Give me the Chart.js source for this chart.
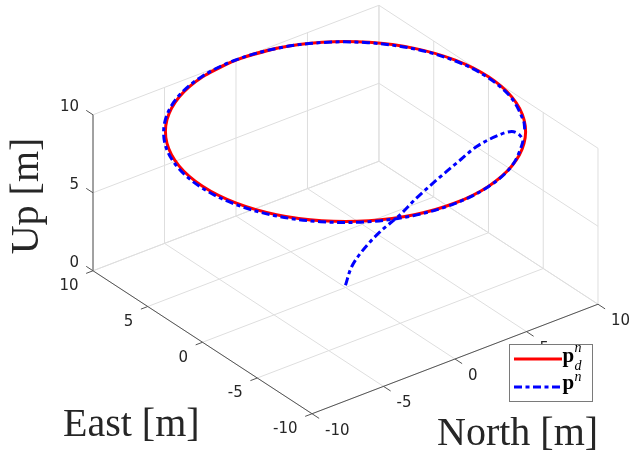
<!DOCTYPE html>
<html>
<head>
<meta charset="utf-8">
<script src="https://cdn.jsdelivr.net/npm/chart.js@4.4.0/dist/chart.umd.min.js"></script>
<style>
  html, body { margin: 0; padding: 0; background: #fff; }
</style>
</head>
<body>
<canvas id="myChart" width="631" height="457"></canvas>
<script>
// axis ticks [m]
const eastTicks = [-10, -5, 0, 5, 10]
const northTicks = [-10, -5, 0, 5, 10]
const upTicks = [0, 5, 10]

// desired position p_d^n (circle, 10 m up)
const refEast = [9.66, 10, 9.66, 8.66, 7.07, 5, 2.59, 0, -2.59, -5, -7.07, -8.66, -9.66, -10,
  -9.66, -8.66, -7.07, -5, -2.59, 0, 2.59, 5, 7.07, 8.66, 9.66, 10, 9.66]
const refNorth = [-2.59, 0, 2.59, 5, 7.07, 8.66, 9.66, 10, 9.66, 8.66, 7.07, 5, 2.59, 0,
  -2.59, -5, -7.07, -8.66, -9.66, -10, -9.66, -8.66, -7.07, -5, -2.59, 0, 2.59]
const refUp = [10, 10, 10, 10, 10, 10, 10, 10, 10, 10, 10, 10, 10, 10,
  10, 10, 10, 10, 10, 10, 10, 10, 10, 10, 10, 10, 10]

// actual position p^n
const posEast = [0, -0.21, -0.59, -1.17, -1.77, -2.40, -3.07, -3.75, -4.42, -5.10, -5.60, -6.20, -6.88,
  -8.65, -9.65, -9.99, -9.65, -8.65, -7.05, -4.98, -2.56, 0.04, 2.64, 5.06, 7.13, 8.73, 9.73, 10.07,
  9.73, 8.73, 7.13, 5.06, 2.64, 0.04, -2.56, -4.98, -5.86]
const posNorth = [0, 0.27, 0.77, 1.53, 2.32, 3.14, 4.02, 4.91, 5.79, 6.68, 7.34, 7.46, 7.12,
  4.96, 2.54, -0.06, -2.66, -5.08, -7.15, -8.75, -9.75, -10.09, -9.75, -8.75, -7.15, -5.08, -2.66, -0.06,
  2.54, 4.96, 7.03, 8.63, 9.63, 9.97, 9.63, 8.63, 8.05]
const posUp = [0.15, 1.33, 2.40, 3.58, 4.54, 5.74, 6.89, 7.98, 9.03, 9.71, 9.99, 9.97, 9.96,
  9.96, 9.96, 9.96, 9.96, 9.96, 9.96, 9.96, 9.96, 9.96, 9.96, 9.96, 9.96, 9.96, 9.96, 9.96,
  9.96, 9.96, 9.96, 9.96, 9.96, 9.96, 9.96, 9.96, 9.96]

// view (like matlab view(az, el)), orthographic
const az = 37.45 * Math.PI / 180
const el = 30 * Math.PI / 180
const pxPerM = 18.01
const originPx = [345.5, 287.5]
const W = 631, H = 457

function project(e, n, u) {
    return {
        x: -Math.sin(az) * e + Math.cos(az) * n,
        y: Math.sin(el) * (Math.cos(az) * e + Math.sin(az) * n) + Math.cos(el) * u
    }
}

const eMin = eastTicks[0], eMax = eastTicks.at(-1)
const nMin = northTicks[0], nMax = northTicks.at(-1)
const uMin = upTicks[0], uMax = upTicks.at(-1)

function seg(pts, color, width, order) {
    return {
        data: pts.map(p => project(p[0], p[1], p[2])),
        showLine: true, borderColor: color, borderWidth: width,
        pointRadius: 0, tension: 0, order: order
    }
}

const datasets = []

// actual path
datasets.push({
    data: posEast.map((e, i) => project(e, posNorth[i], posUp[i])),
    showLine: true, borderColor: 'rgb(0,0,255)', borderWidth: 3,
    borderDash: [8, 3.5, 4, 3.5], borderJoinStyle: 'round',
    pointRadius: 0, tension: 0.34, order: 0
})
// desired path
datasets.push({
    data: refEast.map((e, i) => project(e, refNorth[i], refUp[i])),
    showLine: true, borderColor: 'rgb(255,0,0)', borderWidth: 3,
    borderJoinStyle: 'round',
    pointRadius: 0, tension: 0.34, order: 1
})

// axis lines + ticks
const axisColor = '#555555'
datasets.push(seg([[eMin, nMin, uMin], [eMax, nMin, uMin]], axisColor, 1, 2))
datasets.push(seg([[eMin, nMin, uMin], [eMin, nMax, uMin]], axisColor, 1, 2))
datasets.push(seg([[eMax, nMin, uMin], [eMax, nMin, uMax]], axisColor, 1, 2))
for (const e of eastTicks) datasets.push(seg([[e, nMin, uMin], [e, nMin - 0.48, uMin]], axisColor, 1, 2))
for (const n of northTicks) datasets.push(seg([[eMin, n, uMin], [eMin - 0.65, n, uMin]], axisColor, 1, 2))
for (const u of upTicks) datasets.push(seg([[eMax, nMin, u], [eMax + 0.62, nMin, u]], axisColor, 1, 2))

// grid on floor and the two back walls
const gridColor = '#dedede'
for (const e of eastTicks) {
    datasets.push(seg([[e, nMin, uMin], [e, nMax, uMin]], gridColor, 1, 3))
    datasets.push(seg([[e, nMax, uMin], [e, nMax, uMax]], gridColor, 1, 3))
}
for (const n of northTicks) {
    datasets.push(seg([[eMin, n, uMin], [eMax, n, uMin]], gridColor, 1, 3))
    datasets.push(seg([[eMax, n, uMin], [eMax, n, uMax]], gridColor, 1, 3))
}
for (const u of upTicks) {
    datasets.push(seg([[eMax, nMin, u], [eMax, nMax, u]], gridColor, 1, 3))
    datasets.push(seg([[eMin, nMax, u], [eMax, nMax, u]], gridColor, 1, 3))
}

const textPlugin = {
    id: 'text3d',
    afterDatasetsDraw(chart) {
        const ctx = chart.ctx
        const px = (e, n, u) => {
            const p = project(e, n, u)
            return [chart.scales.x.getPixelForValue(p.x), chart.scales.y.getPixelForValue(p.y)]
        }
        ctx.save()
        ctx.fillStyle = '#262626'
        ctx.font = '15px "DejaVu Sans"'
        ctx.textBaseline = 'middle'

        ctx.textAlign = 'right'
        for (const e of eastTicks) {
            const [x, y] = px(e, nMin, uMin)
            ctx.fillText(String(e), x - 14.5, y + 15.5)
        }
        for (const u of upTicks) {
            const [x, y] = px(eMax, nMin, u)
            ctx.fillText(String(u), x - 14, y - 7.5)
        }
        ctx.textAlign = 'left'
        for (const n of northTicks) {
            const [x, y] = px(eMin, n, uMin)
            ctx.fillText(String(n), x + 13, y + 17)
        }

        // axis titles
        ctx.font = '40px "Liberation Serif"'
        ctx.textBaseline = 'alphabetic'
        ctx.textAlign = 'left'
        ctx.fillText('East [m]', 63, 436)
        ctx.fillText('North [m]', 437, 445)
        ctx.save()
        ctx.translate(37.5, 196)
        ctx.rotate(-Math.PI / 2)
        ctx.textAlign = 'center'
        ctx.fillText('Up [m]', 0, 0)
        ctx.restore()

        // legend
        ctx.fillStyle = '#ffffff'
        ctx.fillRect(509.5, 344.5, 83, 57)
        ctx.strokeStyle = '#7a7a7a'
        ctx.lineWidth = 1
        ctx.strokeRect(509.5, 344.5, 83, 57)

        ctx.lineWidth = 3
        ctx.strokeStyle = 'rgb(255,0,0)'
        ctx.beginPath(); ctx.moveTo(514, 359); ctx.lineTo(562, 359); ctx.stroke()
        ctx.strokeStyle = 'rgb(0,0,255)'
        ctx.setLineDash([8, 3.5, 4, 3.5])
        ctx.beginPath(); ctx.moveTo(514, 387); ctx.lineTo(562, 387); ctx.stroke()
        ctx.setLineDash([])

        ctx.fillStyle = '#000000'
        ctx.font = 'bold 21px "Liberation Serif"'
        ctx.fillText('p', 562.5, 362)
        ctx.fillText('p', 562.5, 389)
        ctx.font = 'italic 14px "Liberation Serif"'
        ctx.fillText('n', 574.5, 352)
        ctx.fillText('d', 574.5, 369.5)
        ctx.fillText('n', 574.5, 381)
        ctx.restore()
    }
}

const ctx = document.getElementById('myChart').getContext('2d')
const myChart = new Chart(ctx, {
    type: 'scatter',
    data: { datasets: datasets },
    options: {
        responsive: false,
        animation: false,
        events: [],
        layout: { padding: 0 },
        plugins: { legend: { display: false }, tooltip: { enabled: false } },
        scales: {
            x: { type: 'linear', display: false, min: -originPx[0] / pxPerM, max: (W - originPx[0]) / pxPerM },
            y: { type: 'linear', display: false, min: -(H - originPx[1]) / pxPerM, max: originPx[1] / pxPerM }
        }
    },
    plugins: [textPlugin]
})
</script>
</body>
</html>
